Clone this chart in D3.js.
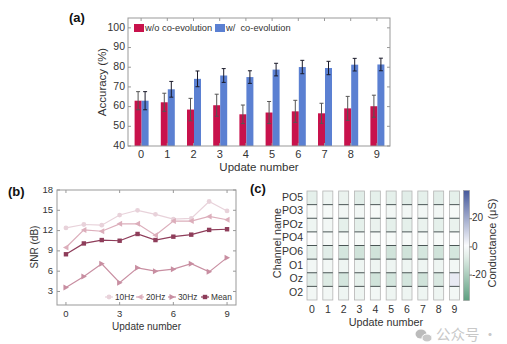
<!DOCTYPE html>
<html>
<head>
<meta charset="utf-8">
<script src="https://cdn.jsdelivr.net/npm/d3@7"></script>
<style>
  body { margin: 0; background: #fff; }
  svg text { font-family: "Liberation Sans", Arial, sans-serif; fill: #333; }
</style>
</head>
<body>
<div id="fig"></div>
<script>
// ---- data ----
var updates = [0, 1, 2, 3, 4, 5, 6, 7, 8, 9];

// (a) accuracy
var accWithout = [63, 62.2, 58.5, 60.7, 56.1, 57, 57.6, 56.6, 59.1, 60.2];
var errWithout = [4.6, 4.6, 5.7, 5.6, 4.7, 5.6, 5.6, 5.1, 6.1, 5.6];
var accWith = [63, 68.8, 74.1, 75.8, 75, 78.8, 80.1, 79.6, 81.3, 81.4];
var errWith = [4.6, 4, 4, 3.5, 3.2, 3.2, 3.4, 3.4, 3.2, 3.2];
var accTicks = [40, 50, 60, 70, 80, 90, 100];

// (b) SNR
var snr10 = [12.4, 12.9, 12.8, 14.3, 15.0, 14.4, 13.7, 13.8, 16.3, 14.9];
var snr20 = [9.5, 12.1, 11.9, 13.0, 13.0, 11.3, 13.4, 13.4, 14.1, 13.6];
var snr30 = [3.6, 5.2, 7.1, 4.3, 6.5, 6.0, 6.3, 7.1, 5.9, 8.0];
var snrMean = [8.5, 10.1, 10.6, 10.5, 11.5, 10.6, 11.1, 11.4, 12.1, 12.2];
var snrTicks = [3, 6, 9, 12, 15, 18];
var snrXTicks = [0, 3, 6, 9];

// (c) conductance
var channels = ["PO5", "PO3", "POz", "PO4", "PO6", "O1", "Oz", "O2"];
var conductance = [
  [-6, -4, -5, -7, -6, -6, -7, -6, -7, -6],
  [-2, -2, -3, -3, -2, -3, -3, -3, -3, -2],
  [-4, -3, -6, -6, -5, -6, -6, -5, -6, -5],
  [-1, -2, -2, -2, -2, -2, -2, -2, -2, -1],
  [-6, -7, -10, -11, -11, -11, -11, -10, -11, -10],
  [-3, -3, -4, -4, -4, -4, -4, -4, -4, -3],
  [-7, -8, -10, -6, -11, -10, -10, -11, -9, 5],
  [-3, -3, -4, -4, -3, -4, -4, -4, -4, -3]
];
var cbTicks = [-20, 0, 20];

var width = 507, height = 344
var svg = d3.select("#fig").append("svg")
    .attr("width", width)
    .attr("height", height)

function label(x, y, txt, size, anchor, rot, weight) {
  var t = svg.append("text")
      .attr("x", x).attr("y", y)
      .attr("text-anchor", anchor || "middle")
      .attr("dominant-baseline", "middle")
      .style("font-size", size + "px")
      .text(txt)
  if (weight) t.style("font-weight", weight).style("fill", "#111")
  if (rot) t.attr("transform", "rotate(" + rot + "," + x + "," + y + ")")
  return t
}

// ================= (a) =================
var aL = 128, aR = 390, aT = 18, aB = 146
var xA = d3.scaleBand().domain(updates).range([aL, aR])
var yA = d3.scaleLinear().domain([40, 105]).range([aB, aT])
var bw = 7

var ga = svg.append("g")
ga.selectAll(".rb").data(updates).enter().append("rect")
    .attr("x", function(d, i) { return xA(d) + xA.bandwidth() / 2 - bw + 0.5 })
    .attr("y", function(d, i) { return yA(accWithout[i]) })
    .attr("width", bw)
    .attr("height", function(d, i) { return aB - yA(accWithout[i]) })
    .attr("fill", "#c8124c")
ga.selectAll(".bb").data(updates).enter().append("rect")
    .attr("x", function(d, i) { return xA(d) + xA.bandwidth() / 2 + 0.5 })
    .attr("y", function(d, i) { return yA(accWith[i]) })
    .attr("width", bw)
    .attr("height", function(d, i) { return aB - yA(accWith[i]) })
    .attr("fill", "#5b80d2")

function errBars(vals, errs, dx, col) {
  updates.forEach(function(d, i) {
    var cx = xA(d) + xA.bandwidth() / 2 + dx
    var y1 = yA(vals[i] - errs[i]), y2 = yA(vals[i] + errs[i])
    ga.append("line").attr("x1", cx).attr("x2", cx).attr("y1", y1).attr("y2", y2)
        .attr("stroke", col).attr("stroke-width", 1)
    ;[y1, y2].forEach(function(y) {
      ga.append("line").attr("x1", cx - 2).attr("x2", cx + 2).attr("y1", y).attr("y2", y)
          .attr("stroke", col).attr("stroke-width", 1)
    })
  })
}
errBars(accWithout, errWithout, -bw / 2 + 0.5, "#555")
errBars(accWith, errWith, bw / 2 + 0.5, "#1a1a2a")

// box + ticks
ga.append("rect").attr("x", aL).attr("y", aT).attr("width", aR - aL).attr("height", aB - aT)
    .attr("fill", "none").attr("stroke", "#999")
accTicks.forEach(function(t) {
  ga.append("line").attr("x1", aL).attr("x2", aL + 3).attr("y1", yA(t)).attr("y2", yA(t)).attr("stroke", "#999")
  ga.append("line").attr("x1", aR).attr("x2", aR - 3).attr("y1", yA(t)).attr("y2", yA(t)).attr("stroke", "#999")
  label(aL - 3, yA(t), t, 10.5, "end")
})
updates.forEach(function(d) {
  var cx = xA(d) + xA.bandwidth() / 2
  ga.append("line").attr("x1", cx).attr("x2", cx).attr("y1", aB).attr("y2", aB - 3).attr("stroke", "#999")
  ga.append("line").attr("x1", cx).attr("x2", cx).attr("y1", aT).attr("y2", aT + 3).attr("stroke", "#999")
  label(cx, 155, d, 11)
})
label((aL + aR) / 2, 168, "Update number", 11.5)
label(103, 82, "Accuracy (%)", 11.5, "middle", -90)
label(69, 19, "(a)", 13, "start", 0, "bold")

// legend
ga.append("rect").attr("x", 134).attr("y", 24).attr("width", 10).attr("height", 8).attr("fill", "#c8124c")
label(145, 28.5, "w/o co-evolution", 9.3, "start")
ga.append("rect").attr("x", 215).attr("y", 24).attr("width", 10).attr("height", 8).attr("fill", "#5b80d2")
label(226, 28.5, "w/  co-evolution", 9.3, "start").attr("xml:space", "preserve")

// ================= (b) =================
var bL = 57, bR = 236, bT = 190, bB = 305
var xB = d3.scaleLinear().domain([-0.5, 9.5]).range([bL, bR])
var yB = d3.scaleLinear().domain([1, 18]).range([bB, bT])
var gb = svg.append("g")

gb.append("rect").attr("x", bL).attr("y", bT).attr("width", bR - bL).attr("height", bB - bT)
    .attr("fill", "none").attr("stroke", "#999")
snrTicks.forEach(function(t) {
  gb.append("line").attr("x1", bL).attr("x2", bL + 3).attr("y1", yB(t)).attr("y2", yB(t)).attr("stroke", "#999")
  gb.append("line").attr("x1", bR).attr("x2", bR - 3).attr("y1", yB(t)).attr("y2", yB(t)).attr("stroke", "#999")
  label(bL - 4, yB(t), t, 9.5, "end")
})
snrXTicks.forEach(function(t) {
  gb.append("line").attr("x1", xB(t)).attr("x2", xB(t)).attr("y1", bB).attr("y2", bB - 3).attr("stroke", "#999")
  gb.append("line").attr("x1", xB(t)).attr("x2", xB(t)).attr("y1", bT).attr("y2", bT + 3).attr("stroke", "#999")
  label(xB(t), 314, t, 9.5)
})
label((bL + bR) / 2, 327, "Update number", 10)
label(35, 247, "SNR (dB)", 10, "middle", -90)
label(8, 193, "(b)", 13, "start", 0, "bold")

var series = [
  { name: "10Hz", vals: snr10, col: "#e8d2da", sym: "circle" },
  { name: "20Hz", vals: snr20, col: "#dcaebb", sym: "left" },
  { name: "30Hz", vals: snr30, col: "#c88ea1", sym: "right" },
  { name: "Mean", vals: snrMean, col: "#8e3d5a", sym: "square" }
]
function marker(g, x, y, s, col) {
  if (s.sym == "circle") g.append("circle").attr("cx", x).attr("cy", y).attr("r", 2.4).attr("fill", col)
  else if (s.sym == "square") g.append("rect").attr("x", x - 2.2).attr("y", y - 2.2).attr("width", 4.4).attr("height", 4.4).attr("fill", col)
  else if (s.sym == "left") g.append("path").attr("d", "M" + (x - 3) + "," + y + "L" + (x + 2.5) + "," + (y - 3) + "L" + (x + 2.5) + "," + (y + 3) + "Z").attr("fill", col)
  else g.append("path").attr("d", "M" + (x + 3) + "," + y + "L" + (x - 2.5) + "," + (y - 3) + "L" + (x - 2.5) + "," + (y + 3) + "Z").attr("fill", col)
}
var line = d3.line().x(function(d, i) { return xB(i) }).y(function(d) { return yB(d) })
series.forEach(function(s) {
  gb.append("path").attr("d", line(s.vals)).attr("fill", "none").attr("stroke", s.col).attr("stroke-width", 1.2)
  s.vals.forEach(function(v, i) { marker(gb, xB(i), yB(v), s, s.col) })
})
// legend
var legX = [105, 136, 168, 201]
series.forEach(function(s, i) {
  gb.append("line").attr("x1", legX[i]).attr("x2", legX[i] + 8).attr("y1", 297).attr("y2", 297)
      .attr("stroke", s.col).attr("stroke-width", 1.2)
  marker(gb, legX[i] + 4, 297, s, s.col)
  label(legX[i] + 10, 297.5, s.name, 8.3, "start")
})

// ================= (c) =================
var gc = svg.append("g")
var xC = d3.scalePoint().domain(updates).range([312, 454.5])
var yC = d3.scaleBand().domain(channels).range([191, 300])
var cw = 10
var color = d3.scaleLinear().domain([-38, 0, 40]).range(["#5d9f80", "#ffffff", "#45589b"])

channels.forEach(function(ch, r) {
  updates.forEach(function(u, c) {
    gc.append("rect")
        .attr("x", xC(u) - cw / 2).attr("y", yC(ch))
        .attr("width", cw).attr("height", yC.bandwidth())
        .attr("fill", color(conductance[r][c]))
  })
  label(303, yC(ch) + yC.bandwidth() / 2, ch, 10.5, "end")
})
updates.forEach(function(u) {
  gc.append("rect").attr("x", xC(u) - cw / 2).attr("y", 191).attr("width", cw).attr("height", 109)
      .attr("fill", "none").attr("stroke", "#b5b5b5").attr("stroke-width", 0.8)
  channels.slice(1).forEach(function(ch) {
    gc.append("line").attr("x1", xC(u) - cw / 2).attr("x2", xC(u) + cw / 2)
        .attr("y1", yC(ch)).attr("y2", yC(ch)).attr("stroke", "#4a5555").attr("stroke-width", 1)
  })
  label(xC(u), 310, u, 10.5)
})
label(386, 323, "Update number", 10.8)
label(278, 243, "Channel name", 10.8, "middle", -90)
label(250, 190, "(c)", 13, "start", 0, "bold")

// colorbar
var yCb = d3.scaleLinear().domain([-38, 40]).range([300.5, 190.5])
var grad = svg.append("defs").append("linearGradient").attr("id", "cb")
    .attr("x1", 0).attr("x2", 0).attr("y1", 1).attr("y2", 0)
d3.range(0, 1.001, 0.1).forEach(function(t) {
  grad.append("stop").attr("offset", t).attr("stop-color", color(-38 + t * 78))
})
gc.append("rect").attr("x", 463.5).attr("y", 190.5).attr("width", 6).attr("height", 110)
    .attr("fill", "url(#cb)").attr("stroke", "#999").attr("stroke-width", 0.6)
cbTicks.forEach(function(t) {
  gc.append("line").attr("x1", 469.5).attr("x2", 472).attr("y1", yCb(t)).attr("y2", yCb(t)).attr("stroke", "#666")
  label(472, yCb(t), t, 10, "start")
})
label(493, 243, "Conductance (μS)", 11, "middle", -90)

// watermark
svg.append("ellipse").attr("cx", 421).attr("cy", 334).attr("rx", 5.5).attr("ry", 4.5).attr("fill", "#bbb")
svg.append("ellipse").attr("cx", 427).attr("cy", 338).attr("rx", 5).attr("ry", 4).attr("fill", "#c8c8c8").attr("stroke", "#fff")
label(436, 336, "公众号 ·", 14.5, "start").style("fill", "#c8c8c8").style("font-family", "'Noto Sans CJK SC', sans-serif")
</script>
</body>
</html>
